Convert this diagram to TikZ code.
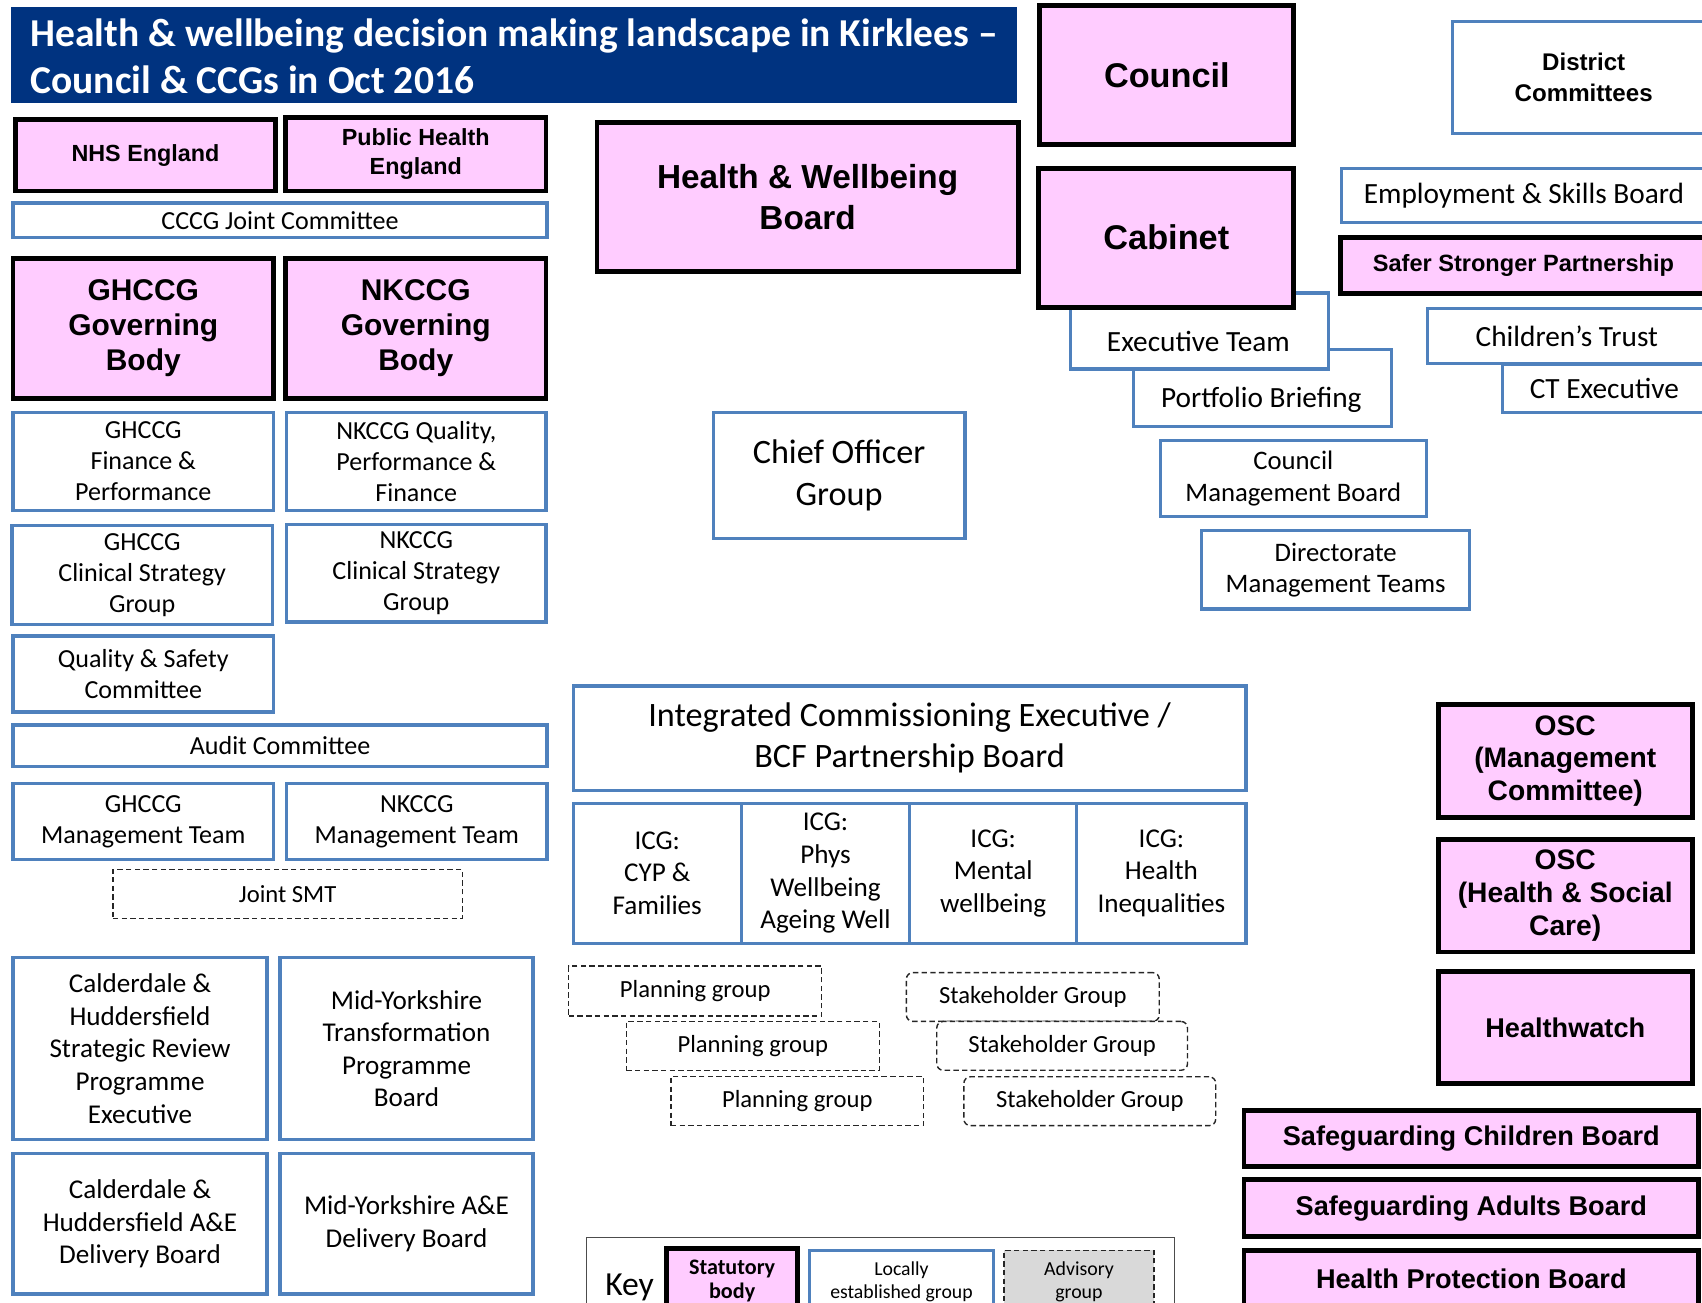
\documentclass[tikz,border=0pt]{standalone}
\usepackage{fontspec}
\setmainfont{Carlito}
\newfontfamily\arialfont{Liberation Sans}
\definecolor{statpink}{RGB}{255,204,255}
\definecolor{locblue}{RGB}{79,129,189}
\definecolor{titleblue}{RGB}{0,51,128}
\definecolor{advgray}{RGB}{217,217,217}
\newcommand{\setfs}[2]{\fontsize{#1}{#2}\selectfont}
\tikzset{
  statbox/.style={draw=black,line width=4.5pt,fill=statpink,align=center,inner sep=0pt},
  locbox/.style={draw=locblue,line width=3pt,fill=white,align=center,inner sep=0pt},
  advbox/.style={draw=black!85,line width=1.3pt,dash pattern=on 5pt off 3pt,fill=white,align=center,inner sep=0pt},
  wh/.style 2 args={minimum width=#1,minimum height=#2},
  af/.style 2 args={font=\arialfont\bfseries\setfs{#1}{#2}},
  cf/.style 2 args={font=\setfs{#1}{#2}},
  titlebar/.style={fill=titleblue,inner sep=0pt},
  titletext/.style={text=white,align=left,inner sep=0pt,font=\bfseries\setfs{36.4}{43}},
}
\begin{document}
\begin{tikzpicture}[x=1pt,y=-1pt]
\useasboundingbox (0,0) rectangle (1568,1200);
\clip (0,0) rectangle (1568,1200);
% title
\node[titlebar,wh={927}{89}] (title) at (473.5,50.5) {};
\node[titletext,anchor=west] (titletxt) at (28,52) {Health \& wellbeing decision making landscape in Kirklees --\\Council \& CCGs in Oct 2016};
% CCGs
\node[statbox,wh={240}{66},af={21.5}{27}] (nhse) at (134,143) {NHS England};
\node[statbox,wh={240}{68},af={21.5}{27}] (phe) at (383,142) {Public  Health\\England};
\node[locbox,wh={492}{32},cf={24}{29}] (cccg) at (258,203) {CCCG Joint Committee};
\node[statbox,wh={240}{129},af={27.6}{32.5}] (ghgb) at (132,302.5) {GHCCG\\Governing\\Body};
\node[statbox,wh={240}{129},af={27.6}{32.5}] (nkgb) at (383,302.5) {NKCCG\\Governing\\Body};
\node[locbox,wh={240}{90},cf={24}{28.5}] (ghfp) at (132,425) {GHCCG\\Finance \&\\Performance};
\node[locbox,wh={239}{90},cf={24}{28.5}] (nkqpf) at (383.5,425) {NKCCG Quality,\\Performance \&\\Finance};
\node[locbox,wh={240}{91},cf={24}{28.5}] (ghcsg) at (131,529.5) {GHCCG\\Clinical Strategy\\Group};
\node[locbox,wh={239}{90},cf={24}{28.5}] (nkcsg) at (383.5,528) {NKCCG\\Clinical Strategy\\Group};
\node[locbox,wh={240}{70},cf={24}{29}] (qsc) at (132,621) {Quality \& Safety\\Committee};
\node[locbox,wh={492}{38},cf={24}{29}] (audit) at (258,687) {Audit  Committee};
\node[locbox,wh={240}{70},cf={24}{29}] (ghmt) at (132,757) {GHCCG\\Management  Team};
\node[locbox,wh={240}{70},cf={24}{29}] (nkmt) at (384,757) {NKCCG\\Management  Team};
\node[advbox,wh={322}{45},cf={22.7}{27}] (jsmt) at (265,823.5) {Joint SMT};
\node[locbox,wh={234}{168},cf={25}{30}] (chsr) at (129,966) {Calderdale \&\\Huddersfield\\Strategic Review\\Programme\\Executive};
\node[locbox,wh={233}{168},cf={25}{30}] (mytp) at (374.5,966) {Mid-Yorkshire\\Transformation\\Programme\\Board};
\node[locbox,wh={234}{129},cf={25}{30}] (chae) at (129,1127.5) {Calderdale \&\\Huddersfield A\&E\\Delivery Board};
\node[locbox,wh={233}{129},cf={25}{30}] (myae) at (374.5,1127.5) {Mid-Yorkshire A\&E\\Delivery Board};
% board and council
\node[statbox,wh={388}{137},af={30.7}{37}] (hwb) at (744,181.5) {Health \& Wellbeing\\Board};
\node[statbox,wh={234}{128},af={31.6}{38}] (council) at (1075,69) {Council};
\node[locbox,wh={238}{71}] (portf) at (1163,357.5) {};
\node[cf={27}{32}] (portft) at (1162,368) {Portfolio  Briefing};
\node[locbox,wh={238}{70}] (exec) at (1105,305) {};
\node[cf={27}{32}] (exect) at (1104,315) {Executive Team};
\node[statbox,wh={235}{128},af={31.6}{38}] (cabinet) at (1074.5,219) {Cabinet};
\node[locbox,wh={245}{70},cf={24.6}{29}] (cmb) at (1191.5,441) {Council\\Management Board};
\node[locbox,wh={247}{72},cf={24.6}{29}] (dmt) at (1230.5,525) {Directorate\\Management Teams};
\node[locbox,wh={242}{103},af={22.2}{29}] (district) at (1459,71.5) {District\\Committees};
\node[locbox,wh={336}{50},cf={27}{32}] (esb) at (1404,180) {Employment \& Skills Board};
\node[statbox,wh={337}{51},af={21.7}{26}] (ssp) at (1403.5,244.5) {Safer  Stronger Partnership};
\node[locbox,wh={188}{44},cf={27}{32}] (ctexec) at (1478,358) {CT Executive};
\node[locbox,wh={257}{51},cf={27}{32}] (ctrust) at (1443.5,309.5) {Children’s Trust};
% commissioning
\node[locbox,wh={232}{116},cf={31.5}{39}] (cog) at (773,438) {Chief Officer\\Group};
\node[locbox,wh={620}{96},cf={31.5}{38}] (ice) at (838,680) {Integrated Commissioning Executive /\\BCF Partnership Board};
\node[locbox,wh={155}{129},cf={25}{30}] (icg1) at (605.5,804.5) {ICG:\\CYP \&\\Families};
\node[locbox,wh={155}{129},cf={25}{30}] (icg2) at (760.5,804.5) {ICG:\\Phys\\Wellbeing\\Ageing Well};
\node[locbox,wh={154}{129},cf={25}{30}] (icg3) at (915,804.5) {ICG:\\Mental\\wellbeing};
\node[locbox,wh={156}{129},cf={25}{30}] (icg4) at (1070,804.5) {ICG:\\Health\\Inequalities};
\node[advbox,wh={233}{46},cf={22.7}{27}] (plan1) at (640.5,913) {Planning group};
\node[advbox,wh={233}{45},cf={22.7}{27}] (plan2) at (693.5,963.5) {Planning group};
\node[advbox,wh={233}{45},cf={22.7}{27}] (plan3) at (734.5,1014.5) {Planning group};
\node[advbox,rounded corners=6pt,wh={233}{45},cf={22.7}{27}] (stake1) at (951.5,918.5) {Stakeholder Group};
\node[advbox,rounded corners=6pt,wh={231}{45},cf={22.7}{27}] (stake2) at (978.5,963.5) {Stakeholder Group};
\node[advbox,rounded corners=6pt,wh={232}{45},cf={22.7}{27}] (stake3) at (1004,1014.5) {Stakeholder Group};
% scrutiny and boards
\node[statbox,wh={234}{104},af={26}{30}] (oscmc) at (1442,701) {OSC\\(Management\\Committee)};
\node[statbox,wh={234}{104},af={26}{30}] (oschsc) at (1442,825) {OSC\\(Health \& Social\\Care)};
\node[statbox,wh={234}{103},af={25}{30}] (hw) at (1442,946.5) {Healthwatch};
\node[statbox,wh={419}{52},af={25}{30}] (scb) at (1355.5,1049) {Safeguarding Children Board};
\node[statbox,wh={419}{52},af={25}{30}] (sab) at (1355.5,1113) {Safeguarding Adults Board};
\node[statbox,wh={419}{52},af={25}{30}] (hpb) at (1355.5,1178) {Health Protection Board};
% key
\node[draw=black!70,line width=1.2pt,fill=white,wh={542}{70}] (keybox) at (811,1175) {};
\node[cf={31}{36}] (keytxt) at (580,1186) {Key};
\node[statbox,wh={121}{60},font=\bfseries\setfs{20.4}{22}] (keystat) at (674.5,1180) {Statutory\\body};
\node[locbox,wh={169}{58},cf={18.2}{21.5}] (keyloc) at (830.5,1181) {Locally\\established group};
\node[advbox,fill=advgray,wh={138}{58},cf={18.3}{21.5}] (keyadv) at (994,1181) {Advisory\\group};
\end{tikzpicture}
\end{document}
